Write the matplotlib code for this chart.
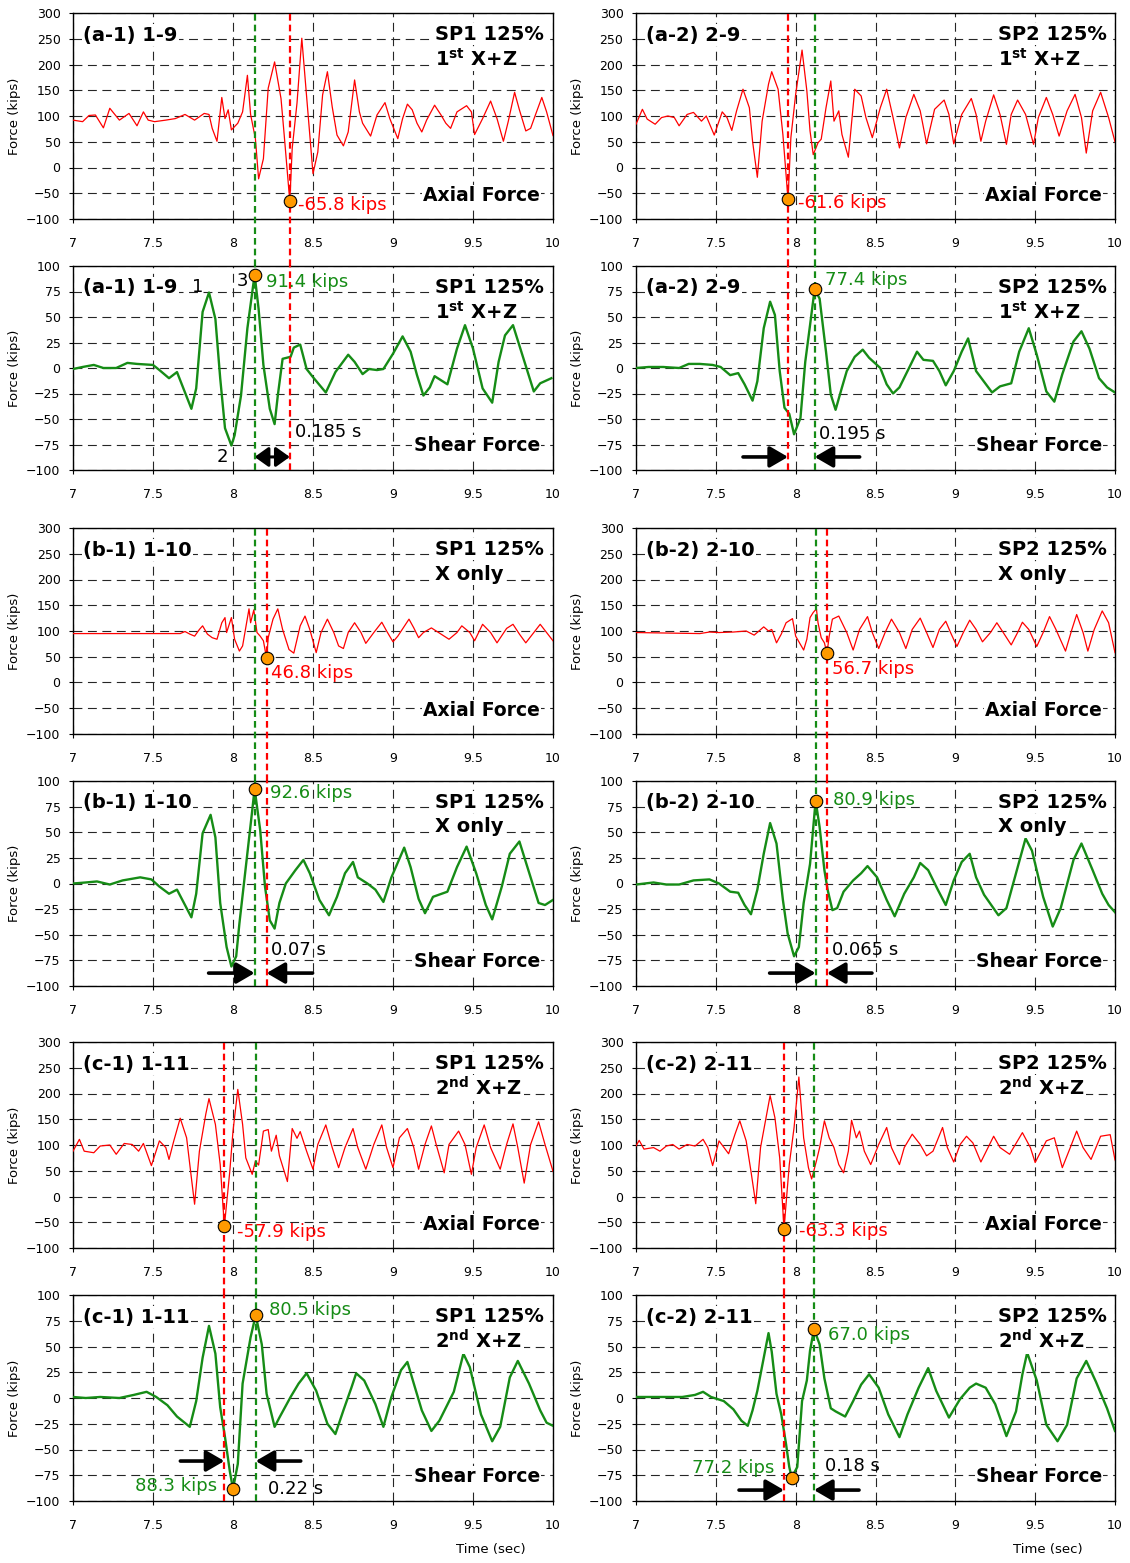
import numpy as np
import matplotlib.pyplot as plt

# ---- traces: (time in s, force in kips) ----
a1_axial = [(7.00, 92), (7.06, 89), (7.10, 101), (7.14, 102), (7.19, 77), (7.23, 115), (7.29, 92), (7.35, 105),
            (7.40, 81), (7.44, 108), (7.47, 92), (7.51, 89), (7.58, 92), (7.64, 95), (7.70, 103), (7.76, 92),
            (7.82, 105), (7.85, 103), (7.87, 76), (7.90, 51), (7.93, 136), (7.95, 95), (7.97, 112), (7.99, 73),
            (8.03, 86), (8.06, 108), (8.09, 179), (8.11, 103), (8.14, 56), (8.16, -22), (8.19, 17), (8.22, 154),
            (8.26, 205), (8.30, 134), (8.32, 63), (8.355, -65.8), (8.37, 37), (8.40, 125), (8.43, 251), (8.46, 138),
            (8.50, -12), (8.53, 30), (8.56, 141), (8.59, 186), (8.62, 118), (8.65, 63), (8.69, 42), (8.72, 69),
            (8.76, 170), (8.79, 108), (8.81, 86), (8.86, 61), (8.90, 102), (8.95, 126), (8.98, 95), (9.03, 56),
            (9.06, 95), (9.09, 123), (9.12, 112), (9.15, 86), (9.18, 69), (9.21, 92), (9.26, 121), (9.30, 102),
            (9.33, 86), (9.36, 76), (9.40, 108), (9.46, 120), (9.49, 108), (9.51, 64), (9.56, 95), (9.61, 129),
            (9.65, 95), (9.69, 51), (9.72, 89), (9.76, 146), (9.79, 112), (9.83, 71), (9.86, 76), (9.89, 102),
            (9.93, 136), (9.96, 108), (10.00, 62)]

a1_shear = [(7.00, -1), (7.06, 1), (7.13, 3), (7.19, 0), (7.27, 0), (7.34, 5), (7.40, 4), (7.50, 3), (7.54, -2),
            (7.60, -10), (7.65, -4), (7.70, -24), (7.74, -40), (7.77, -20), (7.81, 55), (7.85, 74), (7.89, 48),
            (7.92, -10), (7.95, -59), (7.99, -76), (8.01, -66), (8.05, -27), (8.09, 39), (8.135, 91.4), (8.16, 58),
            (8.19, 3), (8.23, -40), (8.26, -55), (8.28, -27), (8.31, 9), (8.36, 11), (8.38, 20), (8.42, 23),
            (8.46, -1), (8.50, -9), (8.58, -24), (8.64, -4), (8.72, 13), (8.76, 6), (8.81, -6), (8.85, -1),
            (8.90, -2), (8.94, -1), (9.00, 14), (9.06, 31), (9.11, 16), (9.15, -7), (9.19, -27), (9.23, -19),
            (9.26, -8), (9.34, -16), (9.40, 19), (9.45, 42), (9.50, 19), (9.56, -20), (9.62, -34), (9.66, 6),
            (9.70, 32), (9.75, 42), (9.81, 12), (9.88, -23), (9.92, -15), (9.99, -10)]

a2_axial = [(7.00, 84), (7.04, 113), (7.07, 94), (7.12, 84), (7.16, 97), (7.20, 100), (7.24, 97), (7.27, 81),
            (7.32, 103), (7.36, 107), (7.41, 90), (7.44, 100), (7.49, 63), (7.54, 108), (7.57, 97), (7.60, 72),
            (7.63, 110), (7.67, 152), (7.71, 116), (7.73, 51), (7.76, -19), (7.79, 90), (7.83, 162), (7.85, 186),
            (7.89, 152), (7.92, 64), (7.952, -61.6), (7.97, 58), (8.00, 142), (8.04, 228), (8.07, 149), (8.09, 71),
            (8.11, 25), (8.14, 48), (8.16, 55), (8.19, 116), (8.22, 168), (8.24, 90), (8.27, 110), (8.29, 64),
            (8.33, 20), (8.37, 152), (8.41, 139), (8.44, 97), (8.48, 58), (8.53, 116), (8.57, 152), (8.61, 97),
            (8.65, 38), (8.69, 97), (8.74, 142), (8.78, 110), (8.82, 46), (8.87, 113), (8.93, 131), (8.96, 103),
            (8.99, 46), (9.04, 103), (9.10, 134), (9.13, 103), (9.16, 51), (9.19, 90), (9.24, 141), (9.28, 103),
            (9.32, 45), (9.35, 103), (9.39, 131), (9.44, 103), (9.49, 45), (9.52, 97), (9.57, 136), (9.61, 103),
            (9.65, 61), (9.70, 110), (9.75, 142), (9.79, 97), (9.82, 28), (9.86, 110), (9.91, 146), (9.96, 97),
            (10.00, 50)]

a2_shear = [(7.00, 0), (7.08, 1), (7.17, 1), (7.27, 0), (7.33, 4), (7.40, 4), (7.48, 3), (7.53, 1), (7.59, -7),
            (7.64, -5), (7.68, -16), (7.73, -32), (7.76, -13), (7.80, 39), (7.84, 65), (7.87, 52), (7.90, -3),
            (7.93, -39), (7.96, -45), (7.99, -65), (8.03, -49), (8.06, 6), (8.09, 42), (8.119, 77.4), (8.15, 68),
            (8.19, 16), (8.22, -26), (8.25, -41), (8.29, -19), (8.32, -3), (8.37, 11), (8.42, 18), (8.46, 10),
            (8.53, 0), (8.57, -16), (8.61, -25), (8.65, -19), (8.71, 0), (8.76, 16), (8.80, 8), (8.86, 7),
            (8.90, -3), (8.94, -17), (8.99, -3), (9.04, 16), (9.08, 29), (9.13, -3), (9.23, -24), (9.28, -18),
            (9.35, -15), (9.40, 16), (9.46, 39), (9.51, 13), (9.57, -23), (9.62, -33), (9.67, -6), (9.74, 26),
            (9.79, 36), (9.84, 19), (9.90, -10), (9.95, -19), (10.00, -24)]

b1_axial = [(7.00, 95), (7.67, 95), (7.70, 99), (7.73, 94), (7.76, 90), (7.79, 103), (7.81, 110), (7.84, 94),
            (7.87, 87), (7.90, 84), (7.93, 116), (7.95, 126), (7.96, 97), (7.99, 126), (8.01, 84), (8.04, 61),
            (8.06, 71), (8.10, 143), (8.11, 116), (8.13, 141), (8.15, 97), (8.17, 90), (8.19, 81), (8.21, 46.8),
            (8.22, 87), (8.25, 123), (8.28, 143), (8.31, 103), (8.35, 64), (8.38, 57), (8.42, 110), (8.45, 129),
            (8.48, 103), (8.52, 58), (8.55, 97), (8.59, 123), (8.63, 97), (8.66, 71), (8.69, 66), (8.72, 97),
            (8.76, 116), (8.80, 97), (8.83, 76), (8.88, 97), (8.93, 117), (8.96, 100), (9.00, 79), (9.03, 90),
            (9.10, 123), (9.13, 106), (9.16, 87), (9.19, 97), (9.24, 106), (9.28, 98), (9.35, 84), (9.40, 97),
            (9.43, 110), (9.48, 97), (9.51, 81), (9.56, 113), (9.61, 97), (9.65, 77), (9.71, 105), (9.75, 113),
            (9.79, 94), (9.83, 77), (9.88, 97), (9.92, 113), (9.96, 97), (10.00, 81)]

b1_shear = [(7.00, 0), (7.08, 1), (7.15, 2), (7.23, -1), (7.31, 3), (7.42, 6), (7.49, 4), (7.54, -3), (7.60, -10),
            (7.65, -6), (7.70, -21), (7.74, -33), (7.77, -10), (7.81, 49), (7.86, 67), (7.89, 45), (7.92, -19),
            (7.96, -62), (7.99, -81), (8.02, -71), (8.04, -39), (8.08, 16), (8.12, 71), (8.135, 92.6), (8.17, 52),
            (8.20, -3), (8.23, -36), (8.26, -44), (8.29, -19), (8.33, 0), (8.39, 13), (8.44, 23), (8.48, 10),
            (8.54, -16), (8.60, -31), (8.65, -13), (8.70, 10), (8.75, 21), (8.78, 6), (8.84, 0), (8.89, -6),
            (8.94, -18), (8.99, 6), (9.07, 35), (9.11, 16), (9.16, -15), (9.20, -29), (9.25, -13), (9.34, -8),
            (9.40, 16), (9.46, 36), (9.52, 10), (9.58, -21), (9.62, -35), (9.68, -3), (9.73, 29), (9.79, 41),
            (9.84, 16), (9.91, -19), (9.95, -21), (10.00, -16)]

b2_axial = [(7.00, 97), (7.40, 95), (7.46, 98), (7.52, 97), (7.61, 98), (7.69, 100), (7.74, 92), (7.80, 108),
            (7.83, 100), (7.85, 103), (7.88, 77), (7.91, 94), (7.94, 116), (7.98, 124), (8.00, 90), (8.05, 63),
            (8.07, 84), (8.09, 126), (8.11, 136), (8.13, 143), (8.14, 116), (8.16, 87), (8.18, 77), (8.196, 56.7),
            (8.21, 90), (8.23, 123), (8.27, 129), (8.32, 97), (8.36, 63), (8.40, 103), (8.45, 128), (8.48, 97),
            (8.52, 66), (8.56, 97), (8.60, 123), (8.65, 97), (8.69, 66), (8.73, 103), (8.78, 125), (8.82, 97),
            (8.86, 68), (8.90, 103), (8.94, 119), (8.97, 97), (9.01, 70), (9.05, 97), (9.09, 121), (9.13, 103),
            (9.17, 79), (9.22, 97), (9.26, 116), (9.30, 97), (9.35, 73), (9.39, 97), (9.42, 117), (9.46, 103),
            (9.51, 70), (9.55, 97), (9.59, 128), (9.63, 103), (9.69, 61), (9.73, 103), (9.76, 132), (9.80, 97),
            (9.83, 61), (9.87, 103), (9.92, 139), (9.96, 116), (10.00, 58)]

b2_shear = [(7.00, -1), (7.11, 1), (7.19, -1), (7.27, -1), (7.36, 3), (7.46, 4), (7.52, 0), (7.59, -8), (7.64, -9),
            (7.68, -21), (7.72, -30), (7.76, -6), (7.80, 29), (7.84, 59), (7.88, 39), (7.92, -16), (7.95, -49),
            (7.99, -71), (8.02, -62), (8.05, -19), (8.09, 19), (8.125, 80.9), (8.15, 55), (8.18, 13), (8.20, -6),
            (8.23, -26), (8.26, -24), (8.30, -8), (8.36, 3), (8.41, 10), (8.45, 17), (8.51, 6), (8.57, -16),
            (8.62, -32), (8.68, -10), (8.74, 6), (8.78, 20), (8.83, 13), (8.89, -6), (8.94, -21), (8.99, 3),
            (9.04, 21), (9.09, 29), (9.13, 6), (9.18, -11), (9.27, -31), (9.32, -24), (9.38, 10), (9.44, 44),
            (9.48, 32), (9.55, -13), (9.61, -42), (9.66, -24), (9.74, 23), (9.79, 39), (9.86, 13), (9.92, -10),
            (9.96, -21), (10.00, -28)]

c1_axial = [(7.00, 88), (7.04, 111), (7.07, 88), (7.13, 85), (7.17, 98), (7.23, 100), (7.27, 82), (7.32, 103),
            (7.37, 101), (7.41, 88), (7.44, 103), (7.49, 60), (7.54, 108), (7.58, 95), (7.60, 72), (7.63, 108),
            (7.67, 152), (7.71, 114), (7.74, 36), (7.76, -15), (7.79, 88), (7.83, 160), (7.85, 190), (7.89, 140),
            (7.92, 62), (7.946, -57.9), (7.98, 49), (8.00, 127), (8.03, 208), (8.06, 140), (8.08, 75), (8.12, 43),
            (8.14, 69), (8.16, 61), (8.19, 127), (8.22, 130), (8.24, 88), (8.27, 119), (8.29, 79), (8.34, 29),
            (8.37, 132), (8.40, 113), (8.42, 126), (8.46, 88), (8.50, 53), (8.53, 101), (8.58, 139), (8.62, 95),
            (8.66, 56), (8.70, 95), (8.75, 132), (8.78, 95), (8.83, 53), (8.88, 101), (8.93, 139), (8.96, 95),
            (9.00, 56), (9.04, 114), (9.09, 132), (9.13, 95), (9.16, 53), (9.20, 101), (9.24, 137), (9.27, 101),
            (9.32, 46), (9.35, 101), (9.41, 127), (9.45, 101), (9.49, 43), (9.52, 95), (9.57, 139), (9.61, 95),
            (9.67, 53), (9.71, 101), (9.75, 141), (9.78, 95), (9.82, 26), (9.86, 101), (9.91, 145), (9.95, 101),
            (10.00, 49)]

c1_shear = [(7.00, 1), (7.08, 0), (7.17, 1), (7.29, 0), (7.38, 3), (7.46, 6), (7.52, 1), (7.59, -7), (7.65, -18),
            (7.73, -28), (7.77, -3), (7.81, 39), (7.85, 70), (7.89, 43), (7.92, -9), (7.95, -38), (7.98, -71),
            (8.00, -88.3), (8.03, -64), (8.06, 14), (8.11, 59), (8.142, 80.5), (8.18, 52), (8.21, 4), (8.26, -28),
            (8.29, -19), (8.36, 1), (8.41, 14), (8.46, 24), (8.52, 7), (8.59, -25), (8.64, -35), (8.69, -12),
            (8.74, 10), (8.77, 24), (8.82, 17), (8.89, -6), (8.94, -28), (8.99, 1), (9.05, 27), (9.09, 35),
            (9.13, 14), (9.18, -12), (9.24, -32), (9.29, -22), (9.38, 6), (9.44, 43), (9.48, 30), (9.55, -16),
            (9.62, -42), (9.67, -28), (9.73, 20), (9.78, 36), (9.85, 14), (9.92, -12), (9.96, -24), (10.00, -27)]

c2_axial = [(7.00, 98), (7.02, 109), (7.05, 92), (7.11, 95), (7.15, 88), (7.19, 98), (7.23, 101), (7.27, 92),
            (7.32, 101), (7.37, 98), (7.42, 111), (7.45, 95), (7.48, 60), (7.52, 108), (7.58, 83), (7.62, 121),
            (7.65, 147), (7.69, 108), (7.72, 49), (7.75, -14), (7.78, 95), (7.84, 196), (7.87, 153), (7.90, 75),
            (7.927, -63.3), (7.96, 62), (7.99, 134), (8.02, 232), (8.05, 114), (8.08, 56), (8.10, 34), (8.13, 69),
            (8.15, 95), (8.18, 147), (8.21, 114), (8.24, 95), (8.27, 62), (8.30, 46), (8.33, 88), (8.35, 148),
            (8.38, 114), (8.40, 127), (8.43, 88), (8.47, 62), (8.52, 101), (8.57, 134), (8.60, 95), (8.65, 62),
            (8.68, 95), (8.73, 121), (8.78, 101), (8.82, 79), (8.86, 88), (8.92, 134), (8.95, 95), (8.99, 67),
            (9.03, 101), (9.07, 117), (9.11, 104), (9.16, 67), (9.24, 117), (9.28, 95), (9.34, 82), (9.42, 124),
            (9.47, 95), (9.50, 66), (9.57, 108), (9.62, 114), (9.67, 56), (9.72, 95), (9.76, 127), (9.80, 95),
            (9.85, 72), (9.91, 117), (9.97, 120), (10.00, 71)]

c2_shear = [(7.00, 1), (7.11, 1), (7.23, 1), (7.29, 1), (7.37, 3), (7.42, 6), (7.47, 1), (7.55, -3), (7.61, -11),
            (7.66, -22), (7.70, -27), (7.73, -12), (7.76, 7), (7.80, 39), (7.83, 63), (7.85, 45), (7.88, 4),
            (7.91, -16), (7.94, -45), (7.96, -67), (7.975, -77.2), (8.01, -67), (8.04, -3), (8.07, 17), (8.09, 46),
            (8.115, 67.0), (8.15, 52), (8.18, 19), (8.22, -10), (8.25, -13), (8.31, -18), (8.36, -3), (8.41, 13),
            (8.46, 23), (8.52, 10), (8.58, -16), (8.65, -38), (8.70, -16), (8.77, 10), (8.83, 29), (8.88, 7),
            (8.96, -19), (9.03, -1), (9.09, 10), (9.13, 14), (9.19, 10), (9.25, -6), (9.32, -37), (9.38, -13),
            (9.42, 23), (9.45, 44), (9.51, 17), (9.57, -26), (9.64, -42), (9.70, -26), (9.76, 19), (9.82, 36),
            (9.88, 16), (9.95, -10), (10.00, -32)]

# times of the vertical reference lines (green: peak shear, red: axial minimum)
green_t = {'a1': 8.135, 'a2': 8.119, 'b1': 8.135, 'b2': 8.125, 'c1': 8.142, 'c2': 8.115}
red_t = {'a1': 8.355, 'a2': 7.952, 'b1': 8.21, 'b2': 8.196, 'c1': 7.946, 'c2': 7.927}

# ---- layout (pixel boxes of the 12 plot areas) ----
W, H = 1130, 1563
col_x = [(73, 553), (636, 1115)]
row_y = [(13, 219), (266, 470), (528, 734), (781, 986), (1042, 1248), (1295, 1501)]

RED = '#ff0000'
GREEN = '#168c16'
ORANGE = '#ff9a00'
BOLD = dict(fontsize=14, fontweight='bold', family='DejaVu Sans')
WHITE = dict(fc='white', ec='none', pad=1.0)
NOTE_FS = 13

fig = plt.figure(figsize=(W / 100, H / 100), dpi=100)


def make_ax(col, row):
    x0, x1 = col_x[col]
    y0, y1 = row_y[row]
    return fig.add_axes([x0 / W, 1 - y1 / H, (x1 - x0) / W, (y1 - y0) / H])


def setup(ax, kind, tag, sp, case):
    ax.set_xlim(7, 10)
    xt = np.arange(7, 10.01, 0.5)
    ax.set_xticks(xt)
    ax.set_xticklabels([f'{v:g}' for v in xt])
    if kind == 'axial':
        ax.set_ylim(-100, 300)
        ax.set_yticks(np.arange(-100, 301, 50))
    else:
        ax.set_ylim(-100, 100)
        ax.set_yticks(np.arange(-100, 101, 25))
    ax.grid(True, color='0.15', ls=(0, (8, 5)), lw=0.8)
    ax.set_axisbelow(True)
    ax.tick_params(direction='out', length=3, labelsize=9)
    ax.tick_params(axis='x', pad=10)
    ax.tick_params(axis='y', pad=6)
    ax.set_ylabel('Force (kips)', fontsize=9.5, labelpad=4)
    for s in ax.spines.values():
        s.set_linewidth(1.0)
    ax.text(0.021, 0.893, tag, transform=ax.transAxes, va='center', ha='left', bbox=WHITE, zorder=5, **BOLD)
    ax.text(0.755, 0.897, sp, transform=ax.transAxes, va='center', ha='left', bbox=WHITE, zorder=5, **BOLD)
    ax.text(0.755, 0.776, case, transform=ax.transAxes, va='center', ha='left', bbox=WHITE, zorder=5, **BOLD)
    name = 'Axial Force' if kind == 'axial' else 'Shear Force'
    fy = 0.112 if kind == 'axial' else 0.118
    ax.text(0.973, fy, name, transform=ax.transAxes, va='center', ha='right', bbox=WHITE, zorder=5,
            **dict(BOLD, fontsize=13.5))


def trace(ax, data, kind):
    t = [p[0] for p in data]
    f = [p[1] for p in data]
    if kind == 'axial':
        ax.plot(t, f, color=RED, lw=0.9, zorder=3)
    else:
        ax.plot(t, f, color=GREEN, lw=1.7, zorder=3)


def mark(ax, t, v, label, color, dx, dy, ha='left'):
    ax.plot(t, v, 'o', ms=9, mfc=ORANGE, mec='k', mew=0.8, zorder=8, clip_on=False)
    ax.annotate(label, (t, v), xytext=(dx, dy), textcoords='offset pixels', color=color,
                fontsize=NOTE_FS, ha=ha, va='center', zorder=9)


def note(ax, t, fy, s, dx):
    ax.annotate(s, (t, fy), xycoords=('data', 'axes fraction'), xytext=(dx, 0),
                textcoords='offset pixels', fontsize=NOTE_FS, ha='left', va='center', zorder=9)


AP = dict(arrowstyle='-|>,head_length=0.55,head_width=0.32', color='k', lw=2.6,
          shrinkA=0, shrinkB=0, mutation_scale=20)


def arrow(ax, t, fy, dx):
    ax.annotate('', xy=(t, fy), xycoords=('data', 'axes fraction'), xytext=(dx, 0),
                textcoords='offset pixels', arrowprops=AP, zorder=9)


def vlines(ax_top, ax_bot, row_top, key):
    y0, y1 = row_y[row_top]
    gap = (row_y[row_top + 1][0] - y1) / (y1 - y0)
    for t, c in [(green_t[key], GREEN), (red_t[key], RED)]:
        ax_top.axvline(t, ymin=-gap, ymax=1, color=c, lw=1.6, ls=(0, (3, 1.8)), clip_on=False, zorder=4)
        ax_bot.axvline(t, ymin=0, ymax=1, color=c, lw=1.6, ls=(0, (3, 1.8)), clip_on=False, zorder=4)


first = r'1$^{\mathbf{st}}$ X+Z'
second = r'2$^{\mathbf{nd}}$ X+Z'
panels = [
    ('a1', 0, 0, '(a-1) 1-9', 'SP1 125%', first, a1_axial, a1_shear),
    ('a2', 1, 0, '(a-2) 2-9', 'SP2 125%', first, a2_axial, a2_shear),
    ('b1', 0, 2, '(b-1) 1-10', 'SP1 125%', 'X only', b1_axial, b1_shear),
    ('b2', 1, 2, '(b-2) 2-10', 'SP2 125%', 'X only', b2_axial, b2_shear),
    ('c1', 0, 4, '(c-1) 1-11', 'SP1 125%', second, c1_axial, c1_shear),
    ('c2', 1, 4, '(c-2) 2-11', 'SP2 125%', second, c2_axial, c2_shear),
]

axs = {}
for key, col, row, tag, sp, case, ax_data, sh_data in panels:
    ax_a = make_ax(col, row)
    ax_s = make_ax(col, row + 1)
    setup(ax_a, 'axial', tag, sp, case)
    setup(ax_s, 'shear', tag, sp, case)
    trace(ax_a, ax_data, 'axial')
    trace(ax_s, sh_data, 'shear')
    vlines(ax_a, ax_s, row, key)
    axs[key] = (ax_a, ax_s)

# (a-1)
a, s = axs['a1']
mark(a, red_t['a1'], -65.8, '-65.8 kips', RED, 8, -4)
mark(s, green_t['a1'], 91.4, '91.4 kips', GREEN, 11, -7)
s.annotate('3', (green_t['a1'], 91.4), xytext=(-6, -6), textcoords='offset pixels', fontsize=NOTE_FS,
           ha='right', va='center')
s.annotate('1', (7.85, 74), xytext=(-11, 6), textcoords='offset pixels', fontsize=NOTE_FS, ha='center', va='center')
s.annotate('2', (7.99, -76), xytext=(-9, -11), textcoords='offset pixels', fontsize=NOTE_FS, ha='center', va='center')
note(s, red_t['a1'], 0.186, '0.185 s', 5)
s.annotate('', xy=(red_t['a1'], 0.064), xycoords=('data', 'axes fraction'),
           xytext=(green_t['a1'], 0.064), textcoords=('data', 'axes fraction'),
           arrowprops=dict(AP, arrowstyle='<|-|>,head_length=0.42,head_width=0.3', lw=2.2))

# (a-2)
a, s = axs['a2']
mark(a, red_t['a2'], -61.6, '-61.6 kips', RED, 10, -4)
mark(s, green_t['a2'], 77.4, '77.4 kips', GREEN, 10, 9)
note(s, green_t['a2'], 0.176, '0.195 s', 4)
arrow(s, red_t['a2'], 0.064, -45)
arrow(s, green_t['a2'], 0.064, 45)

# (b-1)
a, s = axs['b1']
mark(a, red_t['b1'], 46.8, '46.8 kips', RED, 4, -15)
mark(s, green_t['b1'], 92.6, '92.6 kips', GREEN, 15, -4)
note(s, red_t['b1'], 0.176, '0.07 s', 4)
arrow(s, green_t['b1'], 0.063, -46)
arrow(s, red_t['b1'], 0.063, 46)

# (b-2)
a, s = axs['b2']
mark(a, red_t['b2'], 56.7, '56.7 kips', RED, 5, -16)
mark(s, green_t['b2'], 80.9, '80.9 kips', GREEN, 17, 1)
note(s, red_t['b2'], 0.176, '0.065 s', 5)
arrow(s, green_t['b2'], 0.063, -46)
arrow(s, red_t['b2'], 0.063, 45)

# (c-1)
a, s = axs['c1']
mark(a, red_t['c1'], -57.9, '-57.9 kips', RED, 13, -6)
mark(s, green_t['c1'], 80.5, '80.5 kips', GREEN, 13, 5)
mark(s, 8.00, -88.3, '88.3 kips', GREEN, -16, 3, ha='right')
note(s, green_t['c1'], 0.058, '0.22 s', 12)
arrow(s, red_t['c1'], 0.194, -44)
arrow(s, green_t['c1'], 0.194, 45)

# (c-2)
a, s = axs['c2']
mark(a, red_t['c2'], -63.3, '-63.3 kips', RED, 15, -2)
mark(s, green_t['c2'], 67.0, '67.0 kips', GREEN, 14, -6)
mark(s, 7.975, -77.2, '77.2 kips', GREEN, -17, 10, ha='right')
note(s, green_t['c2'], 0.17, '0.18 s', 11)
arrow(s, red_t['c2'], 0.053, -45)
arrow(s, green_t['c2'], 0.053, 45)

fig.text(491 / W, 1 - 1550 / H, 'Time (sec)', ha='center', va='center', fontsize=9.5)
fig.text(1048 / W, 1 - 1550 / H, 'Time (sec)', ha='center', va='center', fontsize=9.5)

fig.savefig('out.png', dpi=100)
